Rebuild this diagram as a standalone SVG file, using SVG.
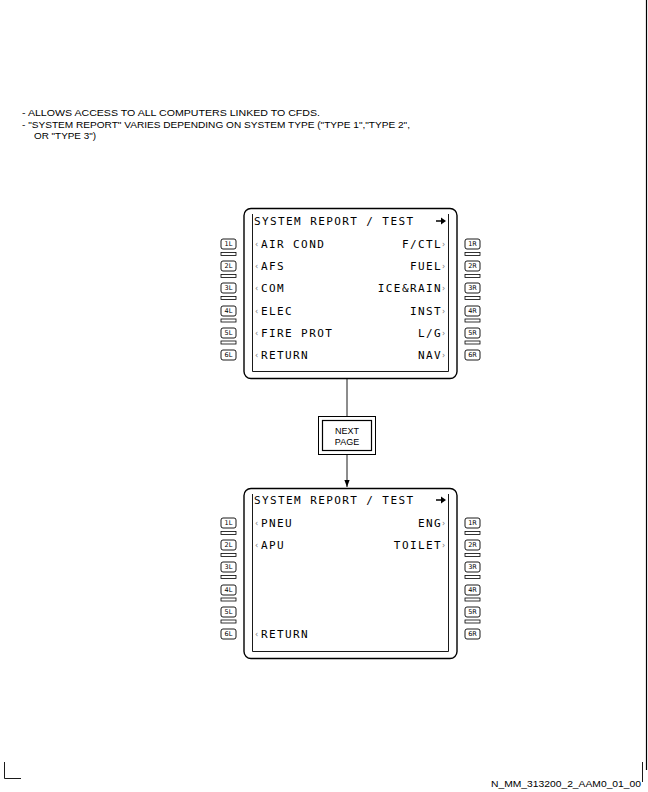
<svg xmlns="http://www.w3.org/2000/svg" width="648" height="792" viewBox="0 0 648 792">
  <style>
    .note { font-family: "Liberation Sans", Arial, sans-serif; font-size: 9px; fill: #000; }
    .scr { font-family: "DejaVu Sans Mono", "Liberation Mono", monospace; font-size: 11px; letter-spacing: 1.4px; fill: #000; }
    .car { font-family: "DejaVu Sans", sans-serif; font-size: 8px; fill: #777; }
    .key { font-family: "DejaVu Sans", sans-serif; font-size: 6.5px; fill: #000; text-anchor: middle; }
    .frame { fill: #fff; stroke: #000; stroke-width: 1.4; }
    .inner { fill: none; stroke: #000; stroke-width: 0.9; }
    .btn { fill: #fff; stroke: #000; stroke-width: 0.9; }
    .bar { fill: #fff; stroke: #000; stroke-width: 0.8; }
    .wire { stroke: #000; stroke-width: 0.9; fill: none; }
    .lbl { font-family: "Liberation Sans", Arial, sans-serif; font-size: 9px; fill: #000; text-anchor: middle; }
  </style>
  <defs>
    <marker id="arrow" viewBox="0 0 8 8" refX="8" refY="4" markerWidth="7" markerHeight="7" markerUnits="userSpaceOnUse" orient="auto">
      <path d="M0,1 L8,4 L0,7 z" fill="#000"/>
    </marker>
    <!-- page-forward arrow shown in the title line -->
    <g id="fwd">
      <line x1="436" y1="0" x2="442" y2="0" stroke="#000" stroke-width="1.5"/>
      <path d="M441,-3.5 L446,0 L441,3.5 z" fill="#000"/>
    </g>
    <!-- line select keys beside one display -->
    <g id="keys">
      <rect class="btn" x="221" y="239" width="15" height="10" rx="2"/>
      <rect class="bar" x="221" y="252.5" width="15" height="3"/>
      <rect class="btn" x="221" y="261" width="15" height="10" rx="2"/>
      <rect class="bar" x="221" y="274.5" width="15" height="3"/>
      <rect class="btn" x="221" y="283" width="15" height="10" rx="2"/>
      <rect class="bar" x="221" y="296.5" width="15" height="3"/>
      <rect class="btn" x="221" y="306" width="15" height="10" rx="2"/>
      <rect class="bar" x="221" y="319" width="15" height="3"/>
      <rect class="btn" x="221" y="328" width="15" height="10" rx="2"/>
      <rect class="bar" x="221" y="341" width="15" height="3"/>
      <rect class="btn" x="221" y="350" width="15" height="10" rx="2"/>
      <rect class="btn" x="465" y="239" width="15" height="10" rx="2"/>
      <rect class="bar" x="465" y="252.5" width="15" height="3"/>
      <rect class="btn" x="465" y="261" width="15" height="10" rx="2"/>
      <rect class="bar" x="465" y="274.5" width="15" height="3"/>
      <rect class="btn" x="465" y="283" width="15" height="10" rx="2"/>
      <rect class="bar" x="465" y="296.5" width="15" height="3"/>
      <rect class="btn" x="465" y="306" width="15" height="10" rx="2"/>
      <rect class="bar" x="465" y="319" width="15" height="3"/>
      <rect class="btn" x="465" y="328" width="15" height="10" rx="2"/>
      <rect class="bar" x="465" y="341" width="15" height="3"/>
      <rect class="btn" x="465" y="350" width="15" height="10" rx="2"/>
      <text class="key" x="228.5" y="246.4">1L</text>
      <text class="key" x="228.5" y="268.4">2L</text>
      <text class="key" x="228.5" y="290.4">3L</text>
      <text class="key" x="228.5" y="313.4">4L</text>
      <text class="key" x="228.5" y="335.4">5L</text>
      <text class="key" x="228.5" y="357.4">6L</text>
      <text class="key" x="472.5" y="246.4">1R</text>
      <text class="key" x="472.5" y="268.4">2R</text>
      <text class="key" x="472.5" y="290.4">3R</text>
      <text class="key" x="472.5" y="313.4">4R</text>
      <text class="key" x="472.5" y="335.4">5R</text>
      <text class="key" x="472.5" y="357.4">6R</text>
    </g>
  </defs>

  <!-- sheet border marks -->
  <line x1="646.5" y1="0" x2="646.5" y2="770" stroke="#000" stroke-width="1.2"/>
  <line x1="642.5" y1="762" x2="642.5" y2="782" stroke="#000" stroke-width="0.9"/>
  <polyline points="4.5,762 4.5,778.5 21,778.5" fill="none" stroke="#000" stroke-width="0.9"/>

  <!-- notes -->
  <g id="notes">
    <text class="note" x="22" y="115.5" textLength="298" lengthAdjust="spacingAndGlyphs">- ALLOWS ACCESS TO ALL COMPUTERS LINKED TO CFDS.</text>
    <text class="note" x="22" y="127.5" textLength="388" lengthAdjust="spacingAndGlyphs">- "SYSTEM REPORT" VARIES DEPENDING ON SYSTEM TYPE ("TYPE 1","TYPE 2",</text>
    <text class="note" x="34" y="139" textLength="62" lengthAdjust="spacingAndGlyphs">OR "TYPE 3")</text>
  </g>

  <!-- connectors -->
  <g id="connectors">
    <line class="wire" x1="347" y1="379" x2="347" y2="416"/>
    <line class="wire" x1="347" y1="455" x2="347" y2="487" marker-end="url(#arrow)"/>
  </g>

  <!-- page 1 -->
  <g id="page1">
    <rect class="frame" x="244" y="208.5" width="213" height="170" rx="7"/>
    <polyline class="inner" points="252.5,214 252.5,371.5 448.5,371.5 448.5,214"/>
    <use href="#keys"/>
    <text class="scr" x="254" y="225">SYSTEM REPORT / TEST</text>
    <use href="#fwd" transform="translate(0,221)"/>
    <text class="car" x="255" y="247">‹</text>
    <text class="car" x="255" y="269">‹</text>
    <text class="car" x="255" y="291">‹</text>
    <text class="car" x="255" y="314">‹</text>
    <text class="car" x="255" y="336">‹</text>
    <text class="car" x="255" y="358">‹</text>
    <text class="car" x="442" y="247">›</text>
    <text class="car" x="442" y="269">›</text>
    <text class="car" x="442" y="291">›</text>
    <text class="car" x="442" y="314">›</text>
    <text class="car" x="442" y="336">›</text>
    <text class="car" x="442" y="358">›</text>
    <text class="scr" x="261" y="248">AIR COND</text>
    <text class="scr" x="261" y="270">AFS</text>
    <text class="scr" x="261" y="292">COM</text>
    <text class="scr" x="261" y="315">ELEC</text>
    <text class="scr" x="261" y="337">FIRE PROT</text>
    <text class="scr" x="261" y="359">RETURN</text>
    <text class="scr" x="442" y="248" text-anchor="end">F/CTL</text>
    <text class="scr" x="442" y="270" text-anchor="end">FUEL</text>
    <text class="scr" x="442" y="292" text-anchor="end">ICE&amp;RAIN</text>
    <text class="scr" x="442" y="315" text-anchor="end">INST</text>
    <text class="scr" x="442" y="337" text-anchor="end">L/G</text>
    <text class="scr" x="442" y="359" text-anchor="end">NAV</text>
  </g>

  <!-- next page key -->
  <g id="next-page">
    <rect x="318.5" y="416.5" width="57" height="38" fill="#fff" stroke="#000" stroke-width="1"/>
    <rect x="322.5" y="420.5" width="49" height="30" fill="none" stroke="#000" stroke-width="1.2"/>
    <text class="lbl" x="347" y="434">NEXT</text>
    <text class="lbl" x="347" y="445">PAGE</text>
  </g>

  <!-- page 2 -->
  <g id="page2">
    <rect class="frame" x="244" y="488.5" width="213" height="170" rx="7"/>
    <polyline class="inner" points="252.5,494 252.5,651.5 448.5,651.5 448.5,494"/>
    <use href="#keys" transform="translate(0,279)"/>
    <text class="scr" x="254" y="504">SYSTEM REPORT / TEST</text>
    <use href="#fwd" transform="translate(0,500)"/>
    <text class="car" x="255" y="526">‹</text>
    <text class="car" x="255" y="548">‹</text>
    <text class="car" x="255" y="637">‹</text>
    <text class="car" x="442" y="526">›</text>
    <text class="car" x="442" y="548">›</text>
    <text class="scr" x="261" y="527">PNEU</text>
    <text class="scr" x="261" y="549">APU</text>
    <text class="scr" x="261" y="638">RETURN</text>
    <text class="scr" x="442" y="527" text-anchor="end">ENG</text>
    <text class="scr" x="442" y="549" text-anchor="end">TOILET</text>
  </g>

  <!-- drawing reference -->
  <text class="note" x="491" y="787" textLength="150" lengthAdjust="spacingAndGlyphs">N_MM_313200_2_AAM0_01_00</text>
</svg>
